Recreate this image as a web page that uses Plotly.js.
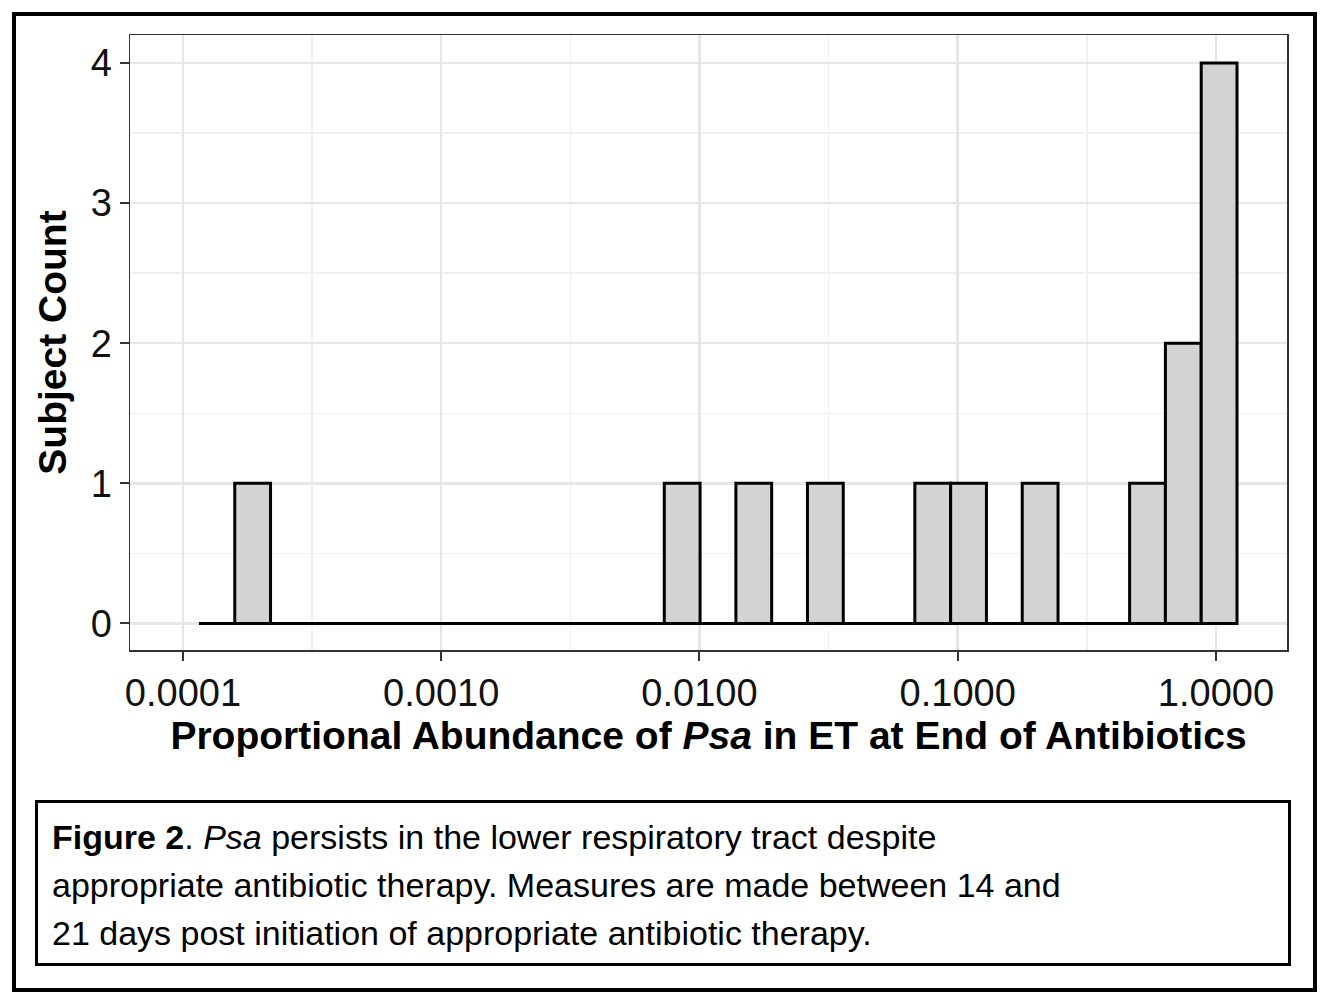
<!DOCTYPE html>
<html><head><meta charset="utf-8">
<script src="https://cdn.plot.ly/plotly-3.0.1.min.js"></script>
<style>
body{margin:0;background:#fff;font-family:Arial,"Liberation Sans",sans-serif}
#frame{position:absolute;left:12px;top:12px;width:1297px;height:972px;border:4px solid #000}
#plot{position:absolute;left:0;top:0;width:1326px;height:1002px}
#cap{position:absolute;left:35px;top:800px;width:1256px;height:166px;border:3px solid #000;font-size:34px;line-height:48px;padding:10px 14px;box-sizing:border-box;white-space:nowrap}
#cap div{height:48px}
</style></head><body>
<div id="plot"></div>
<div id="frame"></div>
<div id="cap"><div><b>Figure 2</b>. <i>Psa</i> persists in the lower respiratory tract despite</div><div>appropriate antibiotic therapy. Measures are made between 14 and</div><div>21 days post initiation of appropriate antibiotic therapy.</div></div>
<script>
// histogram of log10(proportional abundance), 29 bins
const binStart = -3.938;
const binWidth = 0.1386;
const counts = [0,1,0,0,0,0,0,0,0,0,0,0,0,1,0,1,0,1,0,0,1,1,0,1,0,0,1,2,4];
const tickVals = [-4,-3,-2,-1,0];
const tickText = ["0.0001","0.0010","0.0100","0.1000","1.0000"];
const centers = counts.map((c,i)=>binStart+binWidth*(i+0.5));
const edgeX = [binStart, binStart+binWidth*counts.length];
Plotly.newPlot('plot',[
 {type:'scatter',mode:'lines',x:edgeX,y:[0,0],line:{color:'#000',width:3},hoverinfo:'skip'},
 {type:'bar',x:centers.filter((x,i)=>counts[i]>0),y:counts.filter(c=>c>0),width:binWidth,
  marker:{color:'#d3d3d3',line:{color:'#000',width:3}}}
],{
 width:1326,height:1002,showlegend:false,paper_bgcolor:'rgba(0,0,0,0)',plot_bgcolor:'#fff',
 margin:{l:130,r:39,t:35,b:352},
 xaxis:{range:[-4.205,0.275],tickvals:tickVals,ticktext:tickText,showline:true,mirror:true,linecolor:'#333',linewidth:1.5,
  gridcolor:'#e6e6e6',gridwidth:2.5,ticks:'outside',ticklen:9,tickwidth:2,tickcolor:'#333',zeroline:false,
  minor:{tick0:-3.5,dtick:1,showgrid:true,gridcolor:'#f0f0f0',gridwidth:1.5},
  tickfont:{size:38,color:'#111',family:'Arial'},
  title:{text:'<b>Proportional Abundance of <i>Psa</i> in ET at End of Antibiotics</b>',font:{size:39,color:'#000',family:'Arial'},standoff:6}},
 yaxis:{range:[-0.19,4.2],tickvals:[0,1,2,3,4],showline:true,mirror:true,linecolor:'#333',linewidth:1.5,
  gridcolor:'#e6e6e6',gridwidth:2.5,ticks:'outside',ticklen:9,tickwidth:2,tickcolor:'#333',zeroline:false,
  minor:{tick0:0.5,dtick:1,showgrid:true,gridcolor:'#f0f0f0',gridwidth:1.5},
  tickfont:{size:38,color:'#111',family:'Arial'},
  title:{text:'<b>Subject Count</b>',font:{size:39,color:'#000',family:'Arial'},standoff:12}},
 bargap:0
},{displayModeBar:false,staticPlot:true});
</script></body></html>
